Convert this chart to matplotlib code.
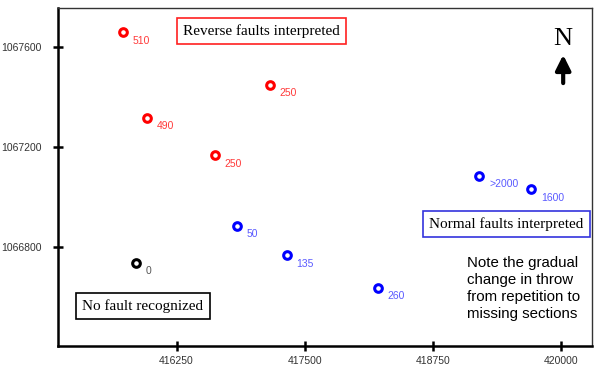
import matplotlib
matplotlib.use("Agg")
import matplotlib.pyplot as plt

# well locations (easting, northing) and throw labels
red_x = [415730, 415967, 417163, 416622]
red_y = [1067658, 1067316, 1067447, 1067166]
red_lab = ["510", "490", "250", "250"]

blue_x = [416843, 417326, 418211, 419203, 419706]
blue_y = [1066883, 1066766, 1066635, 1067084, 1067030]
blue_lab = ["50", "135", "260", ">2000", "1600"]

black_x = [415854]
black_y = [1066736]
black_lab = ["0"]

xticks = [416250, 417500, 418750, 420000]
yticks = [1066800, 1067200, 1067600]

fig = plt.figure(figsize=(6, 3.7), dpi=100)
ax = fig.add_axes([0.0967, 0.0649, 0.89, 0.913])

groups = [(red_x, red_y, red_lab, "#ff0000", "#ff3a3a"),
          (blue_x, blue_y, blue_lab, "#0000ff", "#5a5aff"),
          (black_x, black_y, black_lab, "#000000", "#555555")]
for xs, ys, labs, c, lc in groups:
    ax.plot(xs, ys, "o", ms=5.5, mfc="white", mec=c, mew=2.2, ls="none")
    for x, y, t in zip(xs, ys, labs):
        ax.annotate(t, (x, y), xytext=(7, -6), textcoords="offset points",
                    fontsize=7.5, color=lc, family="Liberation Sans", va="center")

ax.set_xlim(415095, 420300)
ax.set_ylim(1066403, 1067755)
ax.set_xticks(xticks)
ax.set_yticks(yticks)
ax.set_xticklabels([str(v) for v in xticks])
ax.set_yticklabels([str(v) for v in yticks])
ax.tick_params(direction="inout", length=7, width=1.8, labelsize=7.5,
               labelcolor="#333333")
ax.tick_params(axis="x", pad=4)
ax.tick_params(axis="y", pad=8)
for lbl in ax.get_xticklabels() + ax.get_yticklabels():
    lbl.set_family("Liberation Sans")

ax.spines["left"].set_linewidth(1.8)
ax.spines["bottom"].set_linewidth(1.8)
ax.spines["top"].set_linewidth(1.0)
ax.spines["right"].set_linewidth(1.0)
ax.spines["top"].set_color("#333333")
ax.spines["right"].set_color("#333333")

box_kw = dict(fontsize=11, family="Liberation Serif", va="center", ha="center",
              transform=ax.transAxes)
ax.text(0.381, 0.933, "Reverse faults interpreted",
        bbox=dict(boxstyle="square,pad=0.4", fc="white", ec="#ff2020", lw=1.2), **box_kw)
ax.text(0.840, 0.361, "Normal faults interpreted",
        bbox=dict(boxstyle="square,pad=0.4", fc="white", ec="#3333dd", lw=1.2), **box_kw)
ax.text(0.159, 0.118, "No fault recognized",
        bbox=dict(boxstyle="square,pad=0.4", fc="white", ec="#000000", lw=1.2), **box_kw)

ax.text(0.765, 0.265, "Note the gradual\nchange in throw\nfrom repetition to\nmissing sections",
        transform=ax.transAxes, fontsize=10.8, family="Liberation Sans",
        va="top", ha="left", linespacing=1.25)

ax.text(0.946, 0.91, "N", transform=ax.transAxes, fontsize=19,
        family="Liberation Serif", ha="center", va="center")
ax.annotate("", xy=(0.946, 0.87), xytext=(0.946, 0.77), xycoords="axes fraction",
            arrowprops=dict(arrowstyle="-|>,head_width=0.45,head_length=0.9",
                            lw=3, color="black"))

fig.savefig("out.png", dpi=100)
